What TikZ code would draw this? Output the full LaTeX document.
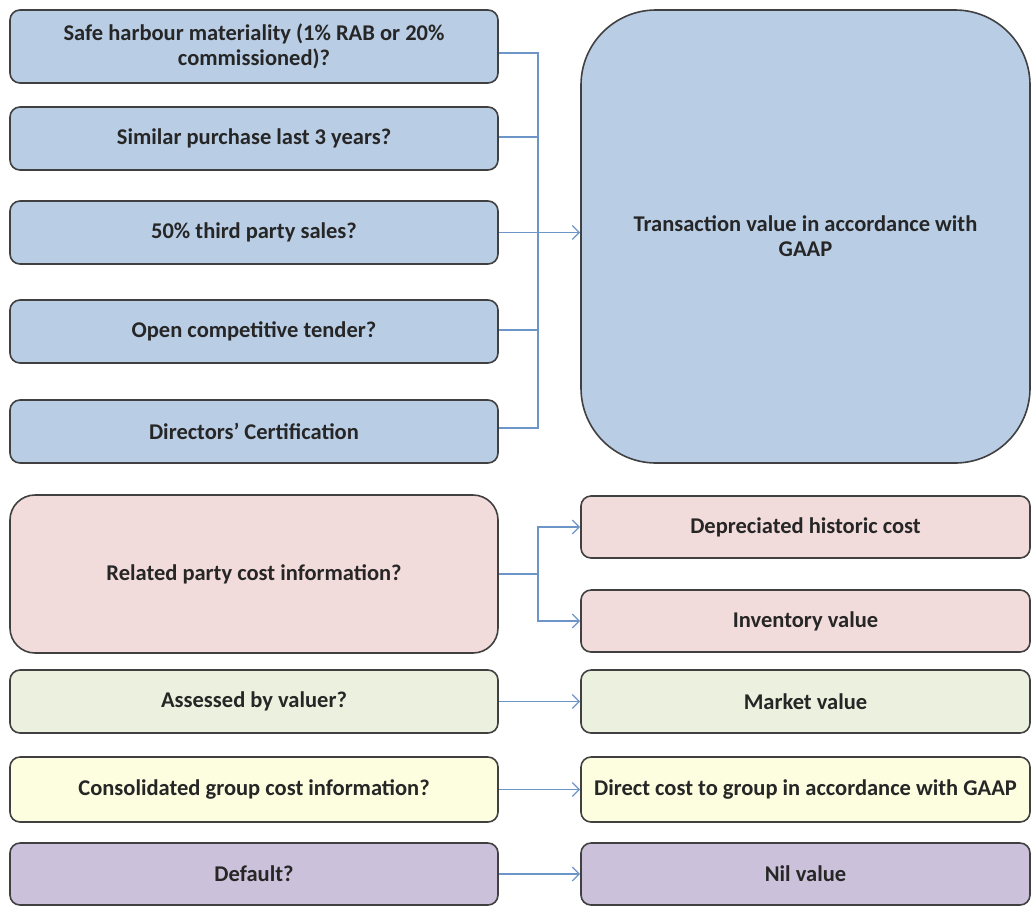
\documentclass[tikz,border=0pt]{standalone}
\usepackage{fontspec}
\setmainfont{Carlito}
\usetikzlibrary{arrows.meta}
\definecolor{bluef}{HTML}{B9CDE5}
\definecolor{redf}{HTML}{F2DCDB}
\definecolor{greenf}{HTML}{EBF1DE}
\definecolor{yellowf}{HTML}{FDFDE0}
\definecolor{purplef}{HTML}{CCC1DA}
\definecolor{edge}{HTML}{404040}
\definecolor{conncol}{HTML}{6E95C8}
\tikzset{
  box/.style={draw=edge, line width=1.6pt, rounded corners=10pt, inner sep=2pt,
    align=center, font=\fontsize{22.5}{25}\selectfont\bfseries, text=black!85},
  conn/.style={draw=conncol, line width=1.4pt},
  arr/.style={conn, -{Straight Barb[length=7pt,width=14pt,line width=1.3pt]}},
}
\begin{document}
\begin{tikzpicture}[x=1pt,y=-1pt]
\useasboundingbox (0,0) rectangle (1032,906);
% top blue section
\node[box, fill=bluef, minimum width=488pt, minimum height=73pt] (b1) at (254,46.5) {Safe harbour materiality (1\% RAB or 20\%\\commissioned)?};
\node[box, fill=bluef, minimum width=488pt, minimum height=63pt] (b2) at (254,138.5) {Similar purchase last 3 years?};
\node[box, fill=bluef, minimum width=488pt, minimum height=63pt] (b3) at (254,232.5) {50\% third party sales?};
\node[box, fill=bluef, minimum width=488pt, minimum height=63pt] (b4) at (254,331.5) {Open competitive tender?};
\node[box, fill=bluef, minimum width=488pt, minimum height=63pt] (b5) at (254,431.5) {Directors’ Certification};
\node[box, fill=bluef, rounded corners=75pt, minimum width=449pt, minimum height=453pt] (big) at (805.5,236.5) {Transaction value in accordance with\\GAAP};
\coordinate (bus) at (538,232.5);
\draw[conn] (b1.east |- 0,53) -| (bus);
\draw[conn] (b5.east |- 0,428) -| (bus);
\draw[conn] (b2.east |- 0,137) -- (bus |- 0,137);
\draw[conn] (b4.east |- 0,330) -- (bus |- 0,330);
\draw[arr] (b3.east) -- (big.west |- b3.east);
% red section
\node[box, fill=redf, rounded corners=25pt, minimum width=488pt, minimum height=158pt] (rel) at (254,574) {Related party cost information?};
\node[box, fill=redf, minimum width=449pt, minimum height=62pt] (dep) at (805.5,527) {Depreciated historic cost};
\node[box, fill=redf, minimum width=449pt, minimum height=62pt] (inv) at (805.5,621) {Inventory value};
\coordinate (bus2) at (538,574);
\draw[conn] (rel.east) -- (bus2);
\draw[arr] (bus2) |- (dep.west);
\draw[arr] (bus2) |- (inv.west);
% green
\node[box, fill=greenf, minimum width=488pt, minimum height=63pt] (ass) at (254,701.5) {Assessed by valuer?};
\node[box, fill=greenf, minimum width=449pt, minimum height=63pt] (mkt) at (805.5,701.5) {Market value};
\draw[arr] (ass) -- (mkt);
% yellow
\node[box, fill=yellowf, minimum width=488pt, minimum height=65pt] (con) at (254,789.5) {Consolidated group cost information?};
\node[box, fill=yellowf, minimum width=449pt, minimum height=65pt] (dir) at (805.5,789.5) {Direct cost to group in accordance with GAAP};
\draw[arr] (con) -- (dir);
% purple
\node[box, fill=purplef, minimum width=488pt, minimum height=62pt] (def) at (254,874) {Default?};
\node[box, fill=purplef, minimum width=449pt, minimum height=62pt] (nil) at (805.5,874) {Nil value};
\draw[arr] (def) -- (nil);
\end{tikzpicture}
\end{document}
